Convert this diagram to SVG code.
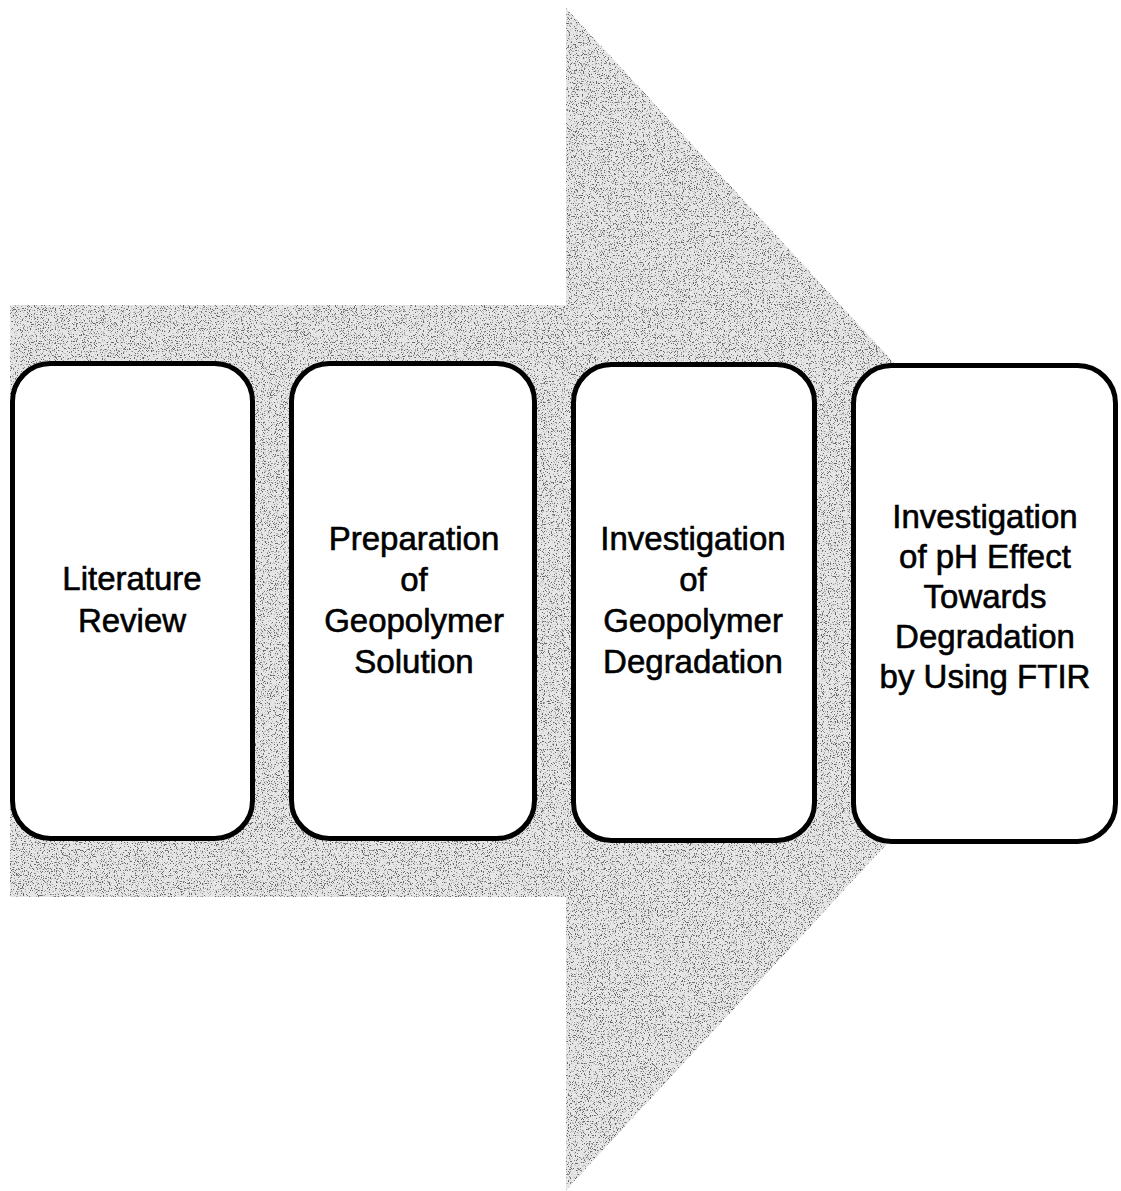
<svg xmlns="http://www.w3.org/2000/svg" width="1121" height="1191" viewBox="0 0 1121 1191">
  <style>
    .box { fill: #ffffff; stroke: #000000; stroke-width: 5; }
    .lbl { font-family: "Liberation Sans", Arial, sans-serif; font-size: 33px; fill: #000000; stroke: #000000; stroke-width: 0.6; text-anchor: middle; }
  </style>
  <defs>
    <filter id="speckle" x="0" y="0" width="100%" height="100%" color-interpolation-filters="sRGB">
      <feTurbulence type="fractalNoise" baseFrequency="0.85" numOctaves="2" seed="7" result="n"/>
      <feColorMatrix in="n" type="matrix" values="0 0 0 0 0.4  0 0 0 0 0.4  0 0 0 0 0.4  9 0 0 0 -5.1" result="dots"/>
      <feComposite in="dots" in2="SourceGraphic" operator="in"/>
    </filter>
  </defs>
  <rect width="1121" height="1191" fill="#ffffff"/>
  <g id="big-arrow">
    <path d="M10,305 L566,305 L566,8 L1113,600 L566,1190 L566,897 L10,897 Z" fill="#e6e6e6"/>
    <path d="M10,305 L566,305 L566,8 L1113,600 L566,1190 L566,897 L10,897 Z" fill="#000000" filter="url(#speckle)"/>
  </g>
  <g id="connectors"></g>
  <g id="node-literature-review">
    <rect class="box" x="12.5" y="363.5" width="240" height="475" rx="38" ry="38"/>
    <text class="lbl" x="132" y="590">Literature</text>
    <text class="lbl" x="132" y="632">Review</text>
  </g>
  <g id="node-preparation">
    <rect class="box" x="291.5" y="363.5" width="243" height="475" rx="38" ry="38"/>
    <text class="lbl" x="414" y="550">Preparation</text>
    <text class="lbl" x="414" y="591">of</text>
    <text class="lbl" x="414" y="632">Geopolymer</text>
    <text class="lbl" x="414" y="673">Solution</text>
  </g>
  <g id="node-investigation-degradation">
    <rect class="box" x="573.5" y="364.5" width="241" height="476" rx="38" ry="38"/>
    <text class="lbl" x="693" y="550">Investigation</text>
    <text class="lbl" x="693" y="591">of</text>
    <text class="lbl" x="693" y="632">Geopolymer</text>
    <text class="lbl" x="693" y="673">Degradation</text>
  </g>
  <g id="node-ph-effect">
    <rect class="box" x="853.5" y="365.5" width="262" height="476" rx="38" ry="38"/>
    <text class="lbl" x="985" y="528">Investigation</text>
    <text class="lbl" x="985" y="568">of pH Effect</text>
    <text class="lbl" x="985" y="608">Towards</text>
    <text class="lbl" x="985" y="648">Degradation</text>
    <text class="lbl" x="985" y="688">by Using FTIR</text>
  </g>
</svg>
